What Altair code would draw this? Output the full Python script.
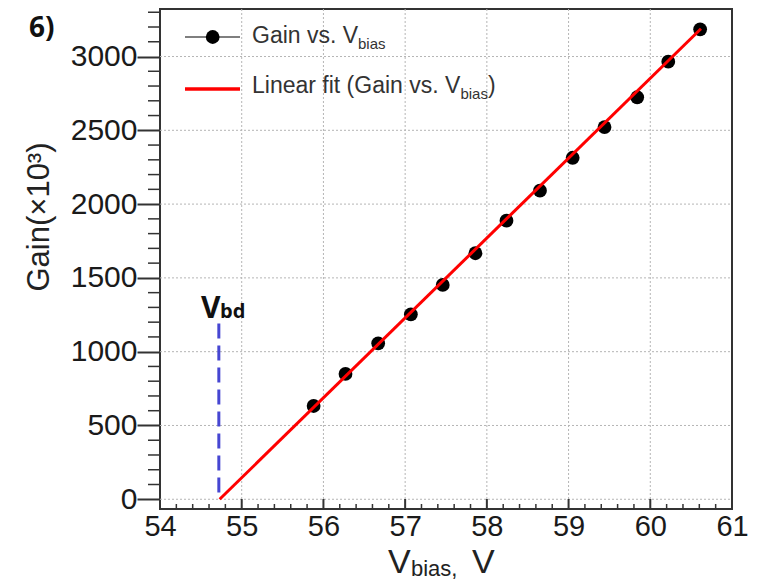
import altair as alt
import pandas as pd

# ---- data ----
v_bias = [55.88, 56.27, 56.67, 57.07, 57.46, 57.86, 58.24, 58.65, 59.05, 59.44, 59.84, 60.22, 60.61]
gain = [632, 849, 1057, 1253, 1452, 1667, 1888, 2091, 2314, 2522, 2724, 2965, 3184]
fit_v = [54.73, 60.62]
fit_gain = [0, 3188]
vbd_v = [54.72]
vbd_low = [45]
vbd_high = [1203]

x_major = [54, 55, 56, 57, 58, 59, 60, 61]
x_inner = [55, 56, 57, 58, 59, 60]
x_minor = [round(54 + 0.2 * i, 1) for i in range(36) if i % 5 != 0]
y_major = [0, 500, 1000, 1500, 2000, 2500, 3000]
y_minor = [100 * i for i in range(1, 34) if i % 5 != 0]

FONT = "Liberation Sans"
xs = alt.Scale(domain=[54, 61], nice=False, zero=False)
ys = alt.Scale(domain=[-66, 3322], nice=False, zero=False)
x_axis = alt.Axis(values=x_major, grid=False, ticks=False, tickSize=0, domain=False,
                  labelFontSize=29, labelFont=FONT, labelColor="#1a1a1a", labelPadding=3,
                  labelFlush=False, labelOverlap=False, format="d", title=None)
y_axis = alt.Axis(values=y_major, grid=False, tickSize=23, tickWidth=2, tickColor="#333",
                  domain=False, labelFontSize=30, labelFont=FONT, labelColor="#1a1a1a",
                  labelPadding=0, labelFlush=False, labelOverlap=False, format="d", title=None)


def X(f="v"):
    return alt.X(f"{f}:Q", scale=xs, axis=x_axis)


def Y(f="g"):
    return alt.Y(f"{f}:Q", scale=ys, axis=y_axis)


pts = pd.DataFrame({"v": v_bias, "g": gain})
fit = pd.DataFrame({"v": fit_v, "g": fit_gain})
vbd = pd.DataFrame({"v": vbd_v, "g": vbd_low, "g2": vbd_high})

grid_x = alt.Chart(pd.DataFrame({"v": x_inner})).mark_rule(
    color="#b5b5b5", strokeWidth=1, strokeDash=[2, 2]).encode(x=X(), y=alt.value(0), y2=alt.value(500))
grid_y = alt.Chart(pd.DataFrame({"g": y_major})).mark_rule(
    color="#b5b5b5", strokeWidth=1, strokeDash=[2, 2]).encode(y=Y(), x=alt.value(0), x2=alt.value(572))

xt_major = alt.Chart(pd.DataFrame({"v": x_inner})).mark_rule(color="#333", strokeWidth=2).encode(
    x=X(), y=alt.value(500), y2=alt.value(490))
xt_minor = alt.Chart(pd.DataFrame({"v": x_minor})).mark_rule(color="#333", strokeWidth=1.5).encode(
    x=X(), y=alt.value(500), y2=alt.value(495))
yt_minor = alt.Chart(pd.DataFrame({"g": y_minor})).mark_rule(color="#333", strokeWidth=1.5).encode(
    y=Y(), x=alt.value(-12), x2=alt.value(0))

vbd_line = alt.Chart(vbd).mark_rule(color="#4646d2", strokeWidth=3, strokeDash=[15, 7]).encode(
    x=X(), y=Y(), y2="g2:Q")

points = alt.Chart(pts).mark_circle(size=190, color="black", opacity=1).encode(x=X(), y=Y())
fit_line = alt.Chart(fit).mark_line(color="#ff0000", strokeWidth=3).encode(x=X(), y=Y())


def txt(s, x, y, size, font=FONT, weight="normal", color="#222", align="left",
        baseline="alphabetic", angle=0):
    return alt.Chart(pd.DataFrame({"t": [s]})).mark_text(
        align=align, baseline=baseline, font=font, fontSize=size, fontWeight=weight,
        color=color, angle=angle).encode(x=alt.value(x), y=alt.value(y), text="t:N")


one = pd.DataFrame({"a": [0]})
leg_line1 = alt.Chart(one).mark_rule(color="#555", strokeWidth=1.5).encode(
    x=alt.value(25), x2=alt.value(80), y=alt.value(28))
leg_dot = alt.Chart(one).mark_circle(size=190, color="black", opacity=1).encode(
    x=alt.value(52.7), y=alt.value(28))
leg_line2 = alt.Chart(one).mark_rule(color="#ff0000", strokeWidth=3.5).encode(
    x=alt.value(25), x2=alt.value(80), y=alt.value(80))

texts = [
    txt("Gain vs. V", 92, 34, 23, color="#333"),
    txt("bias", 198, 40, 15, color="#333"),
    txt("Linear fit (Gain vs. V", 92, 84, 23, color="#333"),
    txt("bias", 300.4, 90, 15, color="#333"),
    txt(")", 328, 84, 23, color="#333"),
    txt("V", 41, 309, 30, font="Open Sans", weight="bold", color="#111"),
    txt("bd", 60, 309, 20, font="Open Sans", weight="bold", color="#111"),
    txt("6)", -131, 28, 28, font="Open Sans", weight="bold", color="#111"),
    txt("Gain(×10³)", -120, 208, 31, align="center", baseline="middle", angle=270),
    txt("V", 228, 564, 34),
    txt("bias,", 251, 567, 22),
    txt("V", 312, 564, 34),
]

chart = alt.layer(
    grid_x, grid_y, xt_major, xt_minor, yt_minor, vbd_line, points, fit_line,
    leg_line1, leg_dot, leg_line2, *texts
).properties(
    width=572, height=500,
    autosize=alt.AutoSizeParams(type="none"),
    padding={"left": 152, "top": 1, "right": 27, "bottom": 71},
    background="white",
).configure_view(stroke="#333", strokeWidth=2)

chart.save("out.html", embed_options={"renderer": "svg", "actions": False})
